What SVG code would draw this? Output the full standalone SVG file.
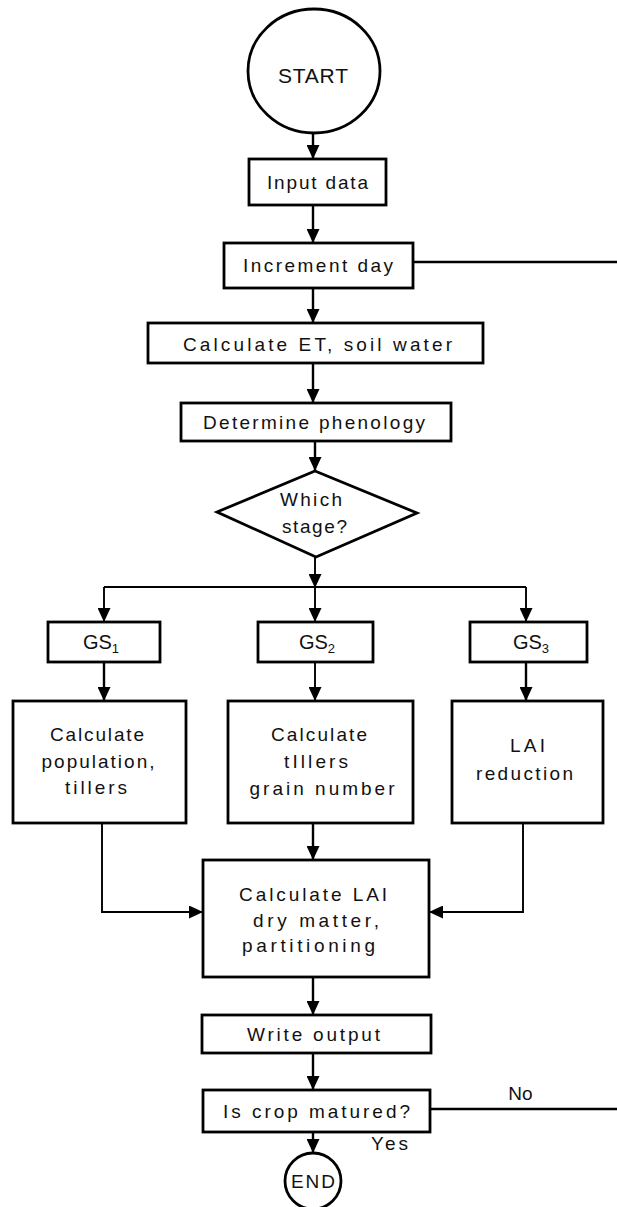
<svg xmlns="http://www.w3.org/2000/svg" width="617" height="1207" viewBox="0 0 617 1207">
<defs>
<style>
.box{fill:#fff;stroke:#000;stroke-width:2.8}
.ln{fill:none;stroke:#000;stroke-width:2.4}
.thin{fill:none;stroke:#000;stroke-width:1.9}
text{font-family:"Liberation Sans",Arial,sans-serif;font-size:19px;fill:#111;text-anchor:middle}
.gs{font-size:20px}
.big{font-size:21px}
</style>
<marker id="ah" markerUnits="userSpaceOnUse" markerWidth="14" markerHeight="13" refX="14" refY="6.5" orient="auto">
<path d="M0,0 L14,6.5 L0,13 z" fill="#000"/>
</marker>
</defs>
<rect width="617" height="1207" fill="#fff"/>

<g id="connectors">
<path class="ln" d="M313,133 L313,159" marker-end="url(#ah)"/>
<path class="ln" d="M313,205 L313,243" marker-end="url(#ah)"/>
<path class="ln" d="M413,262 L617,262"/>
<path class="ln" d="M313,288 L313,323" marker-end="url(#ah)"/>
<path class="ln" d="M313,363 L313,403" marker-end="url(#ah)"/>
<path class="ln" d="M315,441 L315,471" marker-end="url(#ah)"/>
<path class="thin" d="M315,557 L315,588" marker-end="url(#ah)"/>
<path class="thin" d="M104,587 L526,587"/>
<path class="thin" d="M104,587 L104,622" marker-end="url(#ah)"/>
<path class="thin" d="M315,587 L315,622" marker-end="url(#ah)"/>
<path class="thin" d="M526,587 L526,622" marker-end="url(#ah)"/>
<path class="ln" d="M104,662 L104,701" marker-end="url(#ah)"/>
<path class="thin" d="M315,662 L315,701" marker-end="url(#ah)"/>
<path class="ln" d="M526,662 L526,701" marker-end="url(#ah)"/>
<path class="thin" d="M102,823 L102,912 L203,912" marker-end="url(#ah)"/>
<path class="ln" d="M313,823 L313,860" marker-end="url(#ah)"/>
<path class="thin" d="M523,823 L523,912 L429,912" marker-end="url(#ah)"/>
<path class="ln" d="M313,977 L313,1015" marker-end="url(#ah)"/>
<path class="ln" d="M313,1053 L313,1090" marker-end="url(#ah)"/>
<path class="ln" d="M430,1109 L617,1109"/>
<path class="ln" d="M313,1132 L313,1153" marker-end="url(#ah)"/>
</g>

<g id="start">
<ellipse class="box" cx="314" cy="71" rx="66" ry="62"/>
<text class="big" x="313" y="83" textLength="70" lengthAdjust="spacing">START</text>
</g>

<g id="input">
<rect class="box" x="249" y="159" width="137" height="46"/>
<text x="317.5" y="189" textLength="101" lengthAdjust="spacing">Input data</text>
</g>

<g id="increment">
<rect class="box" x="224" y="243" width="189" height="45"/>
<text x="318" y="272" textLength="150" lengthAdjust="spacing">Increment day</text>
</g>

<g id="calc-et">
<rect class="box" x="148" y="323" width="335" height="40"/>
<text x="317.5" y="351" textLength="269" lengthAdjust="spacing">Calculate ET, soil water</text>
</g>

<g id="phenology">
<rect class="box" x="181" y="403" width="270" height="38"/>
<text x="314" y="429" textLength="222" lengthAdjust="spacing">Determine phenology</text>
</g>

<g id="stage">
<polygon class="box" points="315,471 417,513 316,557 217,512"/>
<text x="311" y="506" textLength="62" lengthAdjust="spacing">Which</text>
<text x="314.5" y="533" textLength="65" lengthAdjust="spacing">stage?</text>
</g>

<g id="gs1">
<rect class="box" x="48" y="622" width="112" height="40"/>
<text class="gs" x="101" y="649">GS<tspan font-size="13" dy="4">1</tspan></text>
</g>
<g id="gs2">
<rect class="box" x="258" y="622" width="115" height="40"/>
<text class="gs" x="317" y="649">GS<tspan font-size="13" dy="4">2</tspan></text>
</g>
<g id="gs3">
<rect class="box" x="470" y="622" width="117" height="40"/>
<text class="gs" x="531" y="649">GS<tspan font-size="13" dy="4">3</tspan></text>
</g>

<g id="calc-pop">
<rect class="box" x="13" y="701" width="173" height="122"/>
<text x="97" y="741" textLength="94" lengthAdjust="spacing">Calculate</text>
<text x="98" y="768" textLength="113" lengthAdjust="spacing">population,</text>
<text x="96" y="794" textLength="62" lengthAdjust="spacing">tillers</text>
</g>

<g id="calc-tillers">
<rect class="box" x="228" y="701" width="185" height="122"/>
<text x="319" y="741" textLength="96" lengthAdjust="spacing">Calculate</text>
<text x="316" y="768" textLength="64" lengthAdjust="spacing">tIllers</text>
<text x="322" y="795" textLength="145" lengthAdjust="spacing">grain number</text>
</g>

<g id="lai-red">
<rect class="box" x="452" y="701" width="151" height="122"/>
<text x="527.5" y="752" textLength="35" lengthAdjust="spacing">LAI</text>
<text x="524.5" y="780" textLength="97" lengthAdjust="spacing">reduction</text>
</g>

<g id="calc-lai">
<rect class="box" x="203" y="860" width="226" height="117"/>
<text x="313" y="901" textLength="148" lengthAdjust="spacing">Calculate LAI</text>
<text x="316" y="927" textLength="126" lengthAdjust="spacing">dry matter,</text>
<text x="308.5" y="952" textLength="133" lengthAdjust="spacing">partitioning</text>
</g>

<g id="write">
<rect class="box" x="202" y="1015" width="229" height="38"/>
<text x="313.5" y="1041" textLength="133" lengthAdjust="spacing">Write output</text>
</g>

<g id="matured">
<rect class="box" x="203" y="1090" width="227" height="42"/>
<text x="316.5" y="1118" textLength="187" lengthAdjust="spacing">Is crop matured?</text>
<text x="520.5" y="1100">No</text>
<text x="389.5" y="1150" textLength="37" lengthAdjust="spacing">Yes</text>
</g>

<g id="end">
<circle class="box" cx="313" cy="1181" r="28"/>
<text x="313" y="1188" textLength="44" lengthAdjust="spacing">END</text>
</g>
</svg>
